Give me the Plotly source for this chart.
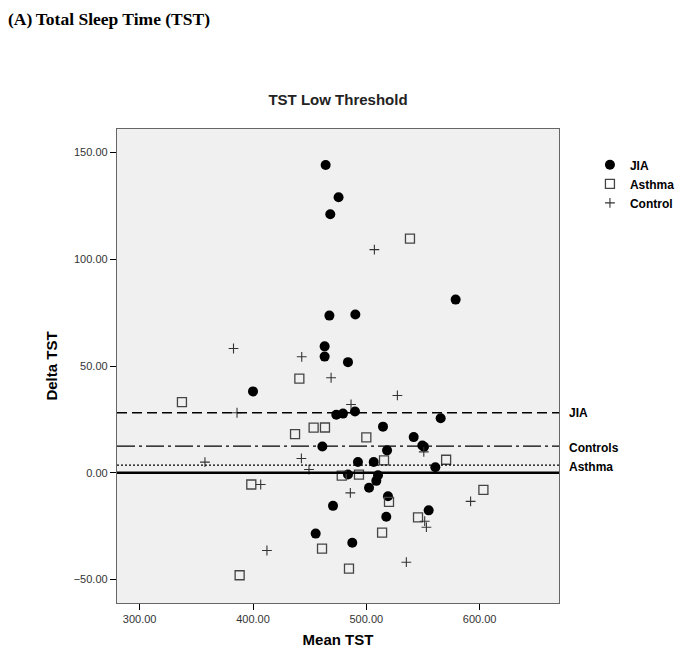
import plotly.graph_objects as go

# Bland-Altman style scatter: mean vs delta total sleep time
jia_mean = [464.1, 475.5, 468.2, 467.4, 490.3, 578.8, 463.2, 463.2, 483.8, 400.0,
            473.5, 479.4, 490.0, 565.6, 514.7, 541.8, 549.4, 550.9, 461.2, 518.3,
            492.6, 506.5, 560.9, 483.8, 510.3, 508.8, 502.4, 519.1, 470.6, 555.0,
            517.6, 455.3, 487.6]
jia_delta = [144.1, 129.0, 121.1, 73.6, 74.1, 81.1, 59.2, 54.4, 51.8, 38.1,
             27.2, 27.7, 28.7, 25.5, 21.6, 16.7, 12.8, 12.2, 12.3, 10.5,
             5.0, 5.0, 2.6, -0.8, -1.2, -3.8, -7.0, -11.0, -15.5, -17.6,
             -20.6, -28.5, -32.8]

asthma_mean = [538.5, 440.9, 337.3, 453.5, 463.5, 437.1, 500.0, 515.6, 570.4, 478.3,
               493.5, 398.5, 603.3, 520.0, 545.6, 513.9, 460.9, 484.7, 388.2]
asthma_delta = [109.7, 44.1, 33.1, 21.1, 21.2, 18.1, 16.6, 5.8, 6.1, -1.3,
                -0.9, -5.5, -8.0, -13.6, -20.9, -28.0, -35.5, -44.9, -48.0]

control_mean = [507.1, 382.8, 443.0, 468.9, 527.4, 486.5, 385.9, 357.6, 442.7, 550.7,
                449.4, 406.8, 485.9, 592.0, 551.5, 553.0, 412.3, 535.3]
control_delta = [104.5, 58.2, 54.3, 44.5, 36.2, 32.0, 28.1, 5.0, 6.7, 9.8,
                 1.5, -5.5, -9.4, -13.4, -22.7, -25.5, -36.4, -41.9]

# mean bias lines per group
bias_labels = ["JIA", "Controls", "Asthma"]
bias_values = [28.1, 12.5, 3.6]
bias_dash = ["10px,5px", "18px,4px,3px,4px", "2px,2px"]

x_ticks = [300, 400, 500, 600]
y_ticks = [-50, 0, 50, 100, 150]

FONT = "Arial, Liberation Sans, sans-serif"

fig = go.Figure()

fig.add_trace(go.Scatter(
    x=jia_mean, y=jia_delta, mode="markers", name="JIA",
    marker=dict(symbol="circle", size=10, color="black"),
))
fig.add_trace(go.Scatter(
    x=asthma_mean, y=asthma_delta, mode="markers", name="Asthma",
    marker=dict(symbol="square-open", size=9, color="#444444",
                line=dict(width=1.3, color="#444444")),
))
fig.add_trace(go.Scatter(
    x=control_mean, y=control_delta, mode="markers", name="Control",
    marker=dict(symbol="cross-thin", size=7, color="#333333",
                line=dict(width=1.1, color="#333333")),
))

# zero line
fig.add_shape(type="line", xref="paper", x0=0, x1=1, yref="y", y0=0, y1=0,
              line=dict(color="black", width=2.5))

for lab, val, dsh in zip(bias_labels, bias_values, bias_dash):
    fig.add_shape(type="line", xref="paper", x0=0, x1=1, yref="y", y0=val, y1=val,
                  line=dict(color="black", width=1.3, dash=dsh))

# labels next to bias lines
label_shift = {"JIA": 0, "Controls": -2, "Asthma": -2}
for lab, val in zip(bias_labels, bias_values):
    fig.add_annotation(x=1.0, xref="paper", xanchor="left", xshift=8,
                       y=val, yref="y", yshift=label_shift[lab],
                       text="<b>" + lab + "</b>", showarrow=False,
                       font=dict(family=FONT, size=12, color="black"))

fig.add_annotation(x=0, xref="paper", xanchor="left", xshift=-111,
                   y=1, yref="paper", yanchor="middle", yshift=110,
                   text="<b>(A)\u2009Total Sleep Time (TST)</b>", showarrow=False,
                   font=dict(family="Liberation Serif, Times New Roman, serif",
                             size=17.5, color="black"))

# page body has an 8px margin, so the figure is shrunk to fit the window
fig.update_layout(
    width=677, height=643,
    margin=dict(l=109, r=126, t=121, b=48, autoexpand=False),
    paper_bgcolor="white",
    plot_bgcolor="#f0f0f0",
    font=dict(family=FONT, color="black"),
    title=dict(text="<b>TST Low Threshold</b>", x=0.5, xref="paper",
               y=1, yref="paper", yanchor="bottom", pad=dict(b=24),
               font=dict(family=FONT, size=15, color="#222222")),
    legend=dict(x=1.07, xanchor="left", y=0.955, yanchor="top",
                bgcolor="rgba(0,0,0,0)", tracegroupgap=0,
                font=dict(family=FONT, size=12, color="black", weight="bold"),
                itemwidth=30),
    showlegend=True,
)

fig.update_xaxes(
    range=[280, 670], tickvals=x_ticks, tickformat=".2f",
    ticks="outside", ticklen=6, tickcolor="black", automargin=False,
    showgrid=False, zeroline=False,
    showline=True, linecolor="#666666", linewidth=1.3, mirror=True,
    tickfont=dict(family=FONT, size=11, color="#333333"),
    title=dict(text="<b>Mean TST</b>", standoff=10,
               font=dict(family=FONT, size=15, color="black")),
)
fig.update_yaxes(
    range=[-61, 161], tickvals=y_ticks, tickformat=".2f",
    ticks="outside", ticklen=6, tickcolor="black", automargin=False,
    showgrid=False, zeroline=False,
    showline=True, linecolor="#666666", linewidth=1.3, mirror=True,
    tickfont=dict(family=FONT, size=11, color="#333333"),
    title=dict(text="<b>Delta TST</b>", standoff=12,
               font=dict(family=FONT, size=15, color="black")),
)

fig.write_html("out.html")
